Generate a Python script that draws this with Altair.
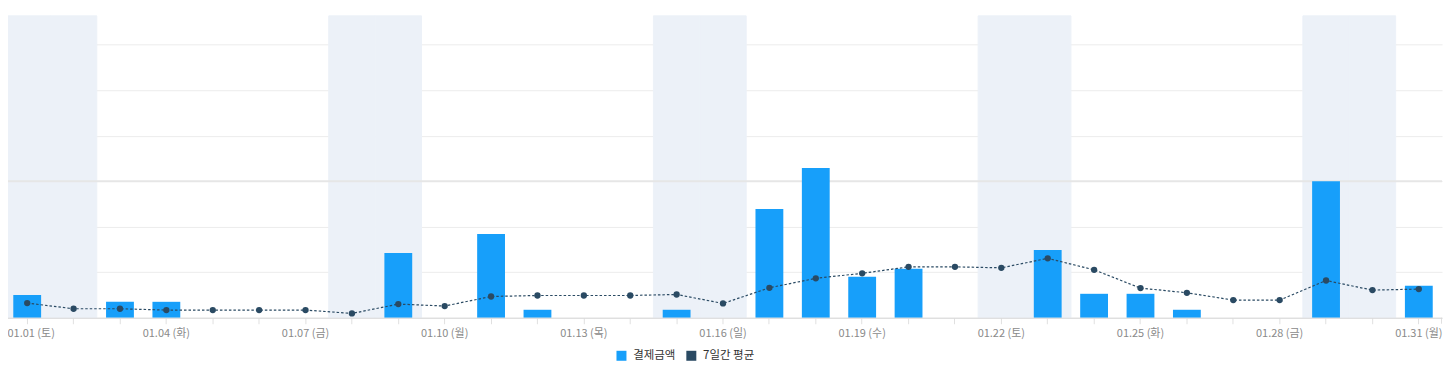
import altair as alt
import pandas as pd

# ---- data ----
dates = ["01.01", "01.02", "01.03", "01.04", "01.05", "01.06", "01.07", "01.08",
         "01.09", "01.10", "01.11", "01.12", "01.13", "01.14", "01.15", "01.16",
         "01.17", "01.18", "01.19", "01.20", "01.21", "01.22", "01.23", "01.24",
         "01.25", "01.26", "01.27", "01.28", "01.29", "01.30", "01.31"]
weekdays = ["토", "일", "월", "화", "수", "목", "금", "토",
            "일", "월", "화", "수", "목", "금", "토", "일",
            "월", "화", "수", "목", "금", "토", "일", "월",
            "화", "수", "목", "금", "토", "일", "월"]
payment = [50000, 0, 35000, 35000, 0, 0, 0, 0,
           142500, 0, 184000, 17500, 0, 0, 17500, 0,
           239000, 329000, 90000, 107500, 0, 0, 149000, 52600,
           52600, 17500, 0, 0, 300000, 0, 70200]
avg7 = [32200, 19700, 19700, 16900, 16900, 16900, 16900, 9400,
        30000, 25700, 46700, 48900, 48900, 48900, 51100, 31400,
        65800, 86600, 97600, 111800, 111800, 109700, 130500, 105300,
        65100, 54800, 38800, 38800, 81800, 60700, 62900]
weekend_days = ["토", "일"]
series_names = ["결제금액", "7일간 평균"]
series_colors = ["#179ffa", "#2a4a63"]
grid_values = [0, 100000, 200000, 300000, 400000, 500000, 600000]

labels = [f"{d} ({w})" for d, w in zip(dates, weekdays)]
df = pd.DataFrame({"label": labels, "weekday": weekdays,
                   "payment": payment, "avg": avg7})
wk = df[df["weekday"].isin(weekend_days)]

W, H = 1441, 303
KFONT = "Noto Sans CJK KR"

x_enc = alt.X("label:N", sort=labels,
              scale=alt.Scale(paddingInner=0, paddingOuter=0),
              axis=alt.Axis(title=None, labelAngle=0, grid=False,
                            labelExpr="(toNumber(substring(datum.value,3,5)) - 1) % 3 == 0 ? datum.value : ''",
                            labelOffset={"condition": {"test": "datum.value == '01.01 (토)'", "value": 4}, "value": 0},
                            labelColor="#8a8a8a", labelFontSize=11, labelFont=KFONT,
                            labelPadding=4, tickSize=6, tickColor="#e0e0e0",
                            domainColor="#d8d8d8", labelOverlap=False, labelBound=False))
y_scale = alt.Scale(domain=[0, 664500], nice=False, zero=True)
y_axis = alt.Axis(title=None, values=grid_values, labels=False, ticks=False,
                  domain=False, grid=True, gridColor="#ececec", gridWidth=1)

color_scale = alt.Scale(domain=series_names, range=series_colors)
legend = alt.Legend(title=None, orient="none", legendX=613, legendY=335,
                    direction="horizontal", symbolType="square", symbolSize=100,
                    symbolOpacity=1, symbolStrokeWidth=0, labelFontSize=11.5,
                    labelColor="#333333", labelFont=KFONT, columnPadding=10,
                    labelOffset=6, padding=0)

shade = alt.Chart(wk).mark_rect(color="#ecf1f8", stroke="#ecf1f8",
                                strokeWidth=1).encode(
    x=x_enc, y=alt.value(0.5), y2=alt.value(H))

grid_dark = alt.Chart(pd.DataFrame({"v": [300000]})).mark_rule(
    color="#e6e6e6", strokeWidth=2).encode(y=alt.Y("v:Q", scale=y_scale, axis=y_axis))

bars = alt.Chart(df).transform_calculate(series="'결제금액'").mark_bar(
    width=alt.RelativeBandSize(0.6)).encode(
    x=x_enc,
    y=alt.Y("payment:Q", scale=y_scale, axis=y_axis),
    color=alt.Color("series:N", scale=color_scale, legend=legend))

line = alt.Chart(df).mark_line(color="#2a4a63", strokeWidth=1.2,
                               strokeDash=[2.5, 2]).encode(
    x=x_enc, y=alt.Y("avg:Q", scale=y_scale, axis=y_axis))

pts = alt.Chart(df).transform_calculate(series="'7일간 평균'").mark_circle(
    size=40, opacity=1).encode(
    x=x_enc, y=alt.Y("avg:Q", scale=y_scale, axis=y_axis),
    color=alt.Color("series:N", scale=color_scale, legend=legend))

edge = alt.Chart(df.head(1)).mark_rule(color="#e0e0e0").encode(
    x=alt.value(W - 0.5), y=alt.value(H), y2=alt.value(H + 6))

chart = alt.layer(shade, grid_dark, bars, line, pts, edge).properties(
    width=W, height=H,
    autosize=alt.AutoSizeParams(type="none"),
    padding={"left": -4, "top": 7, "right": 6, "bottom": 55},
).configure(font=KFONT).configure_view(stroke=None)

chart.save("out.html", embed_options={"renderer": "svg", "actions": False})
